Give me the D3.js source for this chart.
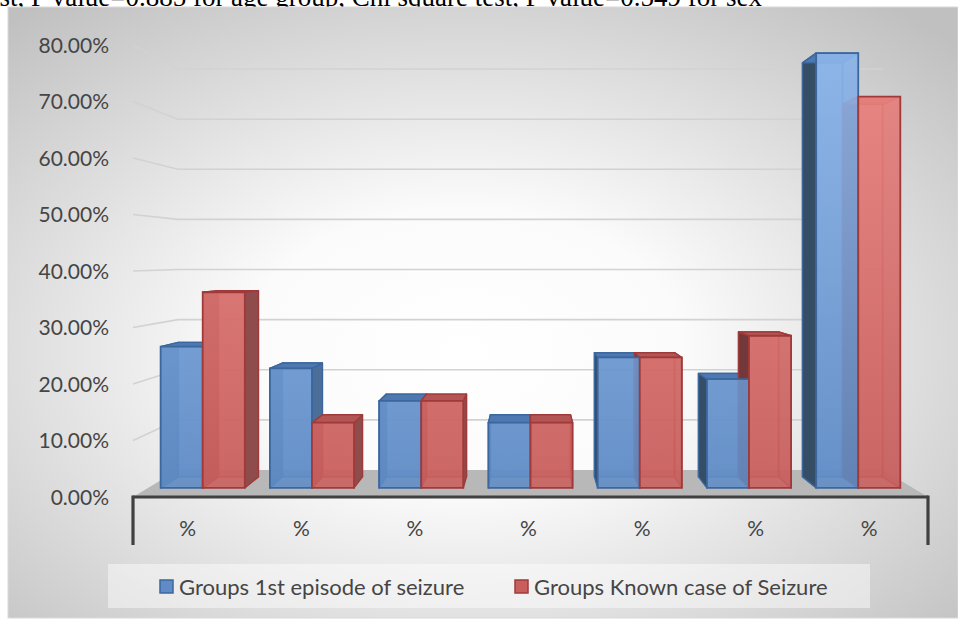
<!DOCTYPE html>
<html>
<head>
<meta charset="utf-8">
<script src="https://cdn.jsdelivr.net/npm/d3@7"></script>
<style>
  html, body { margin: 0; padding: 0; background: #ffffff; }
  svg { display: block; }
  .lbl { font-family: Lato, "Noto Sans", sans-serif; fill: #454545; }
</style>
</head>
<body>
<svg id="chart" width="958" height="620"></svg>
<script>
// ---- data ----
const categories = ["%", "%", "%", "%", "%", "%", "%"];
const seriesNames = ["Groups 1st episode of seizure", "Groups Known case of Seizure"];
const firstEpisode = [26, 22, 16, 12, 24, 20, 80];
const knownCase = [36, 12, 16, 12, 24, 28, 72];
const yTicks = [0, 10, 20, 30, 40, 50, 60, 70, 80];
const noteText = "test, P value=0.885 for age group, Chi square test, P value=0.549 for sex";

const seriesValues = [firstEpisode, knownCase];

// ---- layout ----
const svg = d3.select("#chart");
const W = 958, H = 620;

// front plane of the 3D plot box
const plotLeft = 133, plotRight = 928, plotBottom = 497, plotTop = 45;
// vanishing point and perspective scale factors for the depth planes
const VP = [530, 258];
const S_FRONT = 1, S_BACK = 0.887;     // floor / wall front and back edges
const BAR_FRONT = 0.962, BAR_BACK = 0.916; // bar front and back faces

const x0 = d3.scaleBand().domain(d3.range(categories.length))
  .range([plotLeft, plotRight]).paddingInner(0.23).paddingOuter(0.115);
const x1 = d3.scaleBand().domain(d3.range(seriesNames.length))
  .range([0, x0.bandwidth()]);
const y = d3.scaleLinear().domain([0, 80]).range([plotBottom, plotTop]);

function project(X, Y, s) {
  return [VP[0] + (X - VP[0]) * s, VP[1] + (Y - VP[1]) * s];
}
function poly(pts) {
  return "M" + pts.map(p => p[0].toFixed(2) + "," + p[1].toFixed(2)).join("L") + "Z";
}

const defs = svg.append("defs");

// chart area background
const bg = defs.append("radialGradient").attr("id", "bgGrad")
  .attr("cx", "48%").attr("cy", "56%").attr("r", "72%");
bg.append("stop").attr("offset", "0%").attr("stop-color", "#ffffff");
bg.append("stop").attr("offset", "32%").attr("stop-color", "#fbfbfb");
bg.append("stop").attr("offset", "100%").attr("stop-color", "#c0c0c0");

// front-face shading of the bars
const palette = [
  { top: "#90b9ee", bottom: "#5f8cc6", stroke: "#3b679e", sideOut: "#364d66", sideIn: "#4c6f99", topFace: "#4d79b0", back: "#5682ba" },
  { top: "#ee8985", bottom: "#c95f5d", stroke: "#a03a3a", sideOut: "#73393a", sideIn: "#8f4c4c", topFace: "#b45555", back: "#bb5757" }
];
palette.forEach((p, j) => {
  const g = defs.append("linearGradient").attr("id", "front" + j)
    .attr("gradientUnits", "userSpaceOnUse")
    .attr("x1", 0).attr("y1", 45).attr("x2", 0).attr("y2", 490);
  g.append("stop").attr("offset", "0%").attr("stop-color", p.top);
  g.append("stop").attr("offset", "100%").attr("stop-color", p.bottom);
});

// note line above the chart (partly covered by the chart area)
svg.append("text")
  .attr("x", 762).attr("y", 6)
  .attr("text-anchor", "end")
  .style("font-family", "'Liberation Serif', 'Times New Roman', serif")
  .style("font-size", "27px")
  .style("fill", "#000")
  .text(noteText);

svg.append("rect")
  .attr("x", 8).attr("y", 7).attr("width", W - 8).attr("height", 611)
  .attr("fill", "url(#bgGrad)")
  .attr("stroke", "#d9d9d9").attr("stroke-width", 1);

// floor
const floorPts = [
  project(plotLeft, y(0), S_FRONT), project(plotRight, y(0), S_FRONT),
  project(plotRight, y(0), S_BACK), project(plotLeft, y(0), S_BACK)
];
svg.append("path").attr("d", poly(floorPts)).attr("fill", "#b8b8b8");

// gridlines: left wall + back wall
const grid = svg.append("g").attr("fill", "none")
  .attr("stroke", "#d2d2d2").attr("stroke-width", 1.6);
yTicks.filter(t => t > 0).forEach(t => {
  const a = project(plotLeft, y(t), S_FRONT);
  const b = project(plotLeft, y(t), S_BACK);
  const c = project(plotRight, y(t), S_BACK);
  grid.append("path").attr("d", `M${a[0]},${a[1]}L${b[0]},${b[1]}L${c[0]},${c[1]}`);
});

// bars as perspective boxes
const bars = [];
categories.forEach((c, i) => {
  seriesValues.forEach((vals, j) => {
    const X0 = x0(i) + x1(j), X1 = X0 + x1.bandwidth();
    bars.push({ i, j, X0, X1, Yb: y(0), Yt: y(vals[i]) });
  });
});

const faceG = svg.append("g");
const frontG = svg.append("g");

bars.forEach(b => {
  const p = palette[b.j];
  const f = (X, Y) => project(X, Y, BAR_FRONT);
  const k = (X, Y) => project(X, Y, BAR_BACK);
  const g = faceG.append("g").attr("stroke-linejoin", "round");
  // back face (seen through the translucent front)
  g.append("path")
    .attr("d", poly([k(b.X0, b.Yb), k(b.X1, b.Yb), k(b.X1, b.Yt), k(b.X0, b.Yt)]))
    .attr("fill", p.back).attr("fill-opacity", 0.6)
    .attr("stroke", p.stroke).attr("stroke-width", 1.4);
  // side faces
  const leftOut = b.X0 > VP[0];
  g.append("path")
    .attr("d", poly([f(b.X0, b.Yb), f(b.X0, b.Yt), k(b.X0, b.Yt), k(b.X0, b.Yb)]))
    .attr("fill", leftOut ? p.sideOut : p.sideIn)
    .attr("stroke", p.stroke).attr("stroke-width", 1.4);
  g.append("path")
    .attr("d", poly([f(b.X1, b.Yb), f(b.X1, b.Yt), k(b.X1, b.Yt), k(b.X1, b.Yb)]))
    .attr("fill", p.sideIn)
    .attr("fill-opacity", b.X1 < VP[0] ? 1 : 0.5)
    .attr("stroke", p.stroke).attr("stroke-width", 1.4);
  // top face
  g.append("path")
    .attr("d", poly([f(b.X0, b.Yt), f(b.X1, b.Yt), k(b.X1, b.Yt), k(b.X0, b.Yt)]))
    .attr("fill", p.topFace)
    .attr("stroke", p.stroke).attr("stroke-width", 1.4);
  // front face
  frontG.append("path")
    .attr("d", poly([f(b.X0, b.Yb), f(b.X1, b.Yb), f(b.X1, b.Yt), f(b.X0, b.Yt)]))
    .attr("fill", `url(#front${b.j})`).attr("fill-opacity", 0.88)
    .attr("stroke", p.stroke).attr("stroke-width", 1.8);
});

// category axis line and end ticks
const axis = svg.append("g").attr("stroke", "#404040").attr("stroke-width", 3.2).attr("fill", "none");
axis.append("path").attr("d", `M${plotLeft},${plotBottom}H${plotRight}`);
axis.append("path").attr("d", `M${plotLeft},${plotBottom - 1.5}V545`);
axis.append("path").attr("d", `M${plotRight},${plotBottom - 1.5}V545`);

// value axis labels on the wall's front edge
const fmt = d3.format(".2f");
svg.append("g").selectAll("text").data(yTicks).join("text")
  .attr("class", "lbl")
  .attr("x", 109).attr("y", d => y(d) + 0.5)
  .attr("dy", "0.35em")
  .attr("text-anchor", "end")
  .style("font-size", "21px")
  .text(d => fmt(d) + "%");

// category labels
svg.append("g").selectAll("text").data(categories).join("text")
  .attr("class", "lbl")
  .attr("x", (d, i) => x0(i) + x0.bandwidth() / 2 - 2)
  .attr("y", 529).attr("dy", "0.35em")
  .attr("text-anchor", "middle")
  .style("font-size", "21px")
  .text(d => d);

// legend
svg.append("rect")
  .attr("x", 108).attr("y", 564).attr("width", 762).attr("height", 44)
  .attr("fill", "#ffffff").attr("fill-opacity", 0.45);
const legendX = [160, 515];
const leg = svg.append("g").selectAll("g").data(seriesNames).join("g")
  .attr("transform", (d, j) => `translate(${legendX[j]},580)`);
leg.append("rect").attr("width", 13).attr("height", 13)
  .attr("fill", (d, j) => palette[j].bottom)
  .attr("stroke", (d, j) => palette[j].stroke).attr("stroke-width", 1.5);
leg.append("text").attr("class", "lbl")
  .attr("x", 19).attr("y", 7).attr("dy", "0.35em")
  .style("font-size", "22px")
  .text(d => d);
</script>
</body>
</html>
